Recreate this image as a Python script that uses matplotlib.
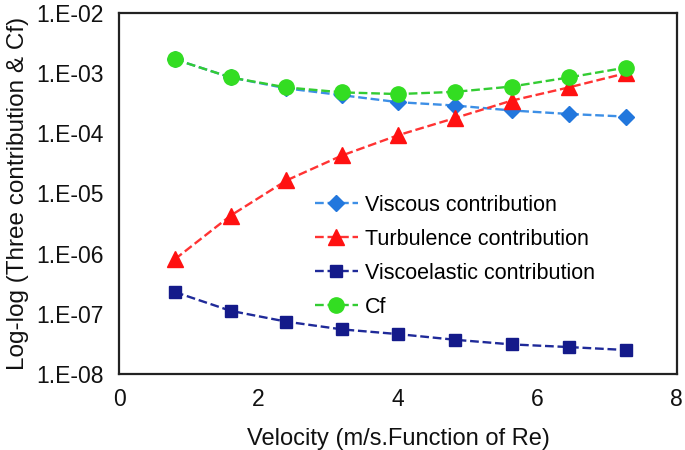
import math
import matplotlib
matplotlib.use('Agg')
import matplotlib.pyplot as plt
from matplotlib.ticker import FixedLocator, FuncFormatter

plt.rcParams['font.family'] = ['Liberation Sans', 'DejaVu Sans']

# velocity values
velocity = [0.8, 1.6, 2.4, 3.2, 4.0, 4.82, 5.63, 6.45, 7.27]

viscous = [1.7e-3, 8.5e-4, 5.6e-4, 4.3e-4, 3.3e-4, 2.9e-4, 2.4e-4, 2.1e-4, 1.9e-4]
turbulence = [8.1e-7, 4.3e-6, 1.65e-5, 4.3e-5, 9.3e-5, 1.8e-4, 3.5e-4, 5.8e-4, 1.0e-3]
viscoelastic = [2.3e-7, 1.12e-7, 7.4e-8, 5.5e-8, 4.6e-8, 3.7e-8, 3.1e-8, 2.8e-8, 2.5e-8]
cf = [1.7e-3, 8.5e-4, 5.8e-4, 4.8e-4, 4.5e-4, 4.9e-4, 6.0e-4, 8.5e-4, 1.24e-3]

y_ticks = [1e-8, 1e-7, 1e-6, 1e-5, 1e-4, 1e-3, 1e-2]
x_ticks = [0, 2, 4, 6, 8]

fig = plt.figure(figsize=(6.85, 4.5), dpi=100)
ax = fig.add_axes([0.174, 0.169, 0.814, 0.802])

ax.plot(velocity, viscous, '--', color='#3d8fe6', marker='D', markersize=8,
        markerfacecolor='#2277dd', markeredgecolor='#2277dd', lw=1.7, label='Viscous contribution')
ax.plot(velocity, turbulence, '--', color='#ff3333', marker='^', markersize=11,
        markerfacecolor='#ff1111', markeredgecolor='#ff1111', lw=1.7, label='Turbulence contribution')
ax.plot(velocity, viscoelastic, '--', color='#1f2a99', marker='s', markersize=9,
        markerfacecolor='#141a8a', markeredgecolor='#141a8a', lw=1.7, label='Viscoelastic contribution')
ax.plot(velocity, cf, '--', color='#33cc33', marker='o', markersize=11,
        markerfacecolor='#33dd22', markeredgecolor='#33dd22', lw=1.7, label='Cf')

ax.set_yscale('log')
ax.set_ylim(1e-8, 1e-2)
ax.set_xlim(0, 8)
ax.yaxis.set_major_locator(FixedLocator(y_ticks))
ax.yaxis.set_minor_locator(FixedLocator([]))
ax.yaxis.set_major_formatter(FuncFormatter(lambda v, p: '1.E-%02d' % round(-math.log10(v))))
ax.set_xticks(x_ticks)
ax.tick_params(length=0, labelsize=16.5, colors='#111111')
ax.tick_params(axis='y', pad=11)
ax.tick_params(axis='x', pad=10)

for s in ax.spines.values():
    s.set_linewidth(1.6)
    s.set_color('#222222')

ax.set_xlabel('Velocity (m/s.Function of Re)', fontsize=17, color='#111111', labelpad=12)
ax.set_ylabel('Log-log (Three contribution & Cf)', fontsize=17.5, color='#111111', labelpad=5)

ax.legend(loc='upper left', bbox_to_anchor=(0.335, 0.52), frameon=False, fontsize=15.5,
          handlelength=2.0, handletextpad=0.35, labelspacing=0.6, borderaxespad=0)

fig.savefig('out.png', dpi=100)
